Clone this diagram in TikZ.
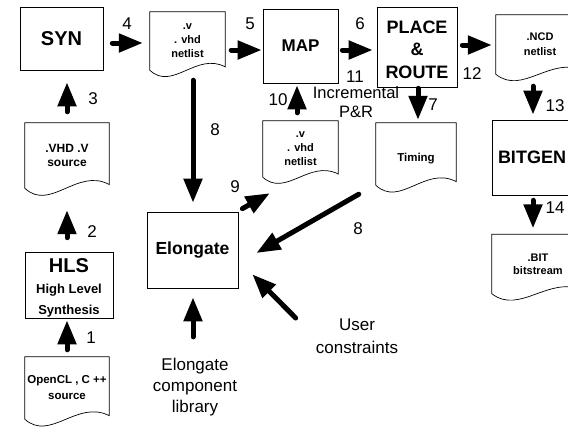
\documentclass[tikz,border=0pt]{standalone}
\usepackage{fontspec}
\setmainfont{Liberation Sans}
\usetikzlibrary{arrows.meta,calc}
\begin{document}
\begin{tikzpicture}[x=1pt,y=-1pt,
  box/.style={draw, line width=0.7pt, inner sep=0pt, align=center},
  docnode/.style={inner sep=0pt, align=center, font=\bfseries\fontsize{11}{14}\selectfont},
  docline/.style={line width=0.7pt},
  lbl/.style={inner sep=0pt, font=\fontsize{17}{20}\selectfont},
  arr/.style={line width=5pt, line cap=round, -{Triangle[length=24pt,width=18pt]}}]
\useasboundingbox (0,0) rectangle (568,432);
\clip (0,0) rectangle (568,432);
\fill[white] (0,0) rectangle (568,432);

% boxes
\node[box, minimum width=83pt, minimum height=63pt, font=\bfseries\fontsize{20}{24}\selectfont] (syn) at (61.5,38.5) {SYN};
\node[box, minimum width=75pt, minimum height=74pt, font=\bfseries\fontsize{17}{20}\selectfont] (map) at (300.5,46) {MAP};
\node[box, minimum width=80pt, minimum height=80pt, font=\bfseries\fontsize{18}{22.5}\selectfont] (pr) at (417,47) {\raisebox{-4pt}[\height][\depth]{\begin{tabular}{@{}c@{}}PLACE\\\&\\ROUTE\end{tabular}}};
\node[box, minimum width=80pt, minimum height=75pt, font=\bfseries\fontsize{18}{22}\selectfont] (bitgen) at (532,157.5) {BITGEN};
\node[box, minimum width=88pt, minimum height=66pt, font=\bfseries\fontsize{13}{20.5}\selectfont] (hls) at (69,285) {\raisebox{-4pt}[\height][\depth]{\begin{tabular}{@{}c@{}}{\fontsize{20}{20}\selectfont HLS}\\[1pt]High Level\\Synthesis\end{tabular}}};
\node[box, minimum width=91pt, minimum height=76pt, font=\bfseries\fontsize{17.5}{20}\selectfont] (elong) at (192.5,250) {Elongate};

% documents
\node[docnode, minimum width=75pt, minimum height=58pt] (doc1) at (187.5,41) {.v\\. vhd\\netlist};
\node[docnode, minimum width=75pt, minimum height=56pt] (doc2) at (300.5,149) {.v\\. vhd\\netlist};
\node[docnode, minimum width=88pt, minimum height=59pt, font=\bfseries\fontsize{11}{15}\selectfont] (ncd) at (540,44.5) {.NCD\\netlist};
\node[docnode, minimum width=92pt, minimum height=59pt, font=\bfseries\fontsize{11}{13}\selectfont] (bit) at (538,264) {.BIT\\bitstream};
\node[docnode, minimum width=80pt, minimum height=62pt, font=\bfseries\fontsize{11.5}{14}\selectfont] (timing) at (416,154) {\raisebox{-5pt}[\height][\depth]{Timing}};
\node[docnode, minimum width=84pt, minimum height=65pt, font=\bfseries\fontsize{12}{14}\selectfont] (vhd) at (67,155.5) {.VHD .V\\source};
\node[docnode, minimum width=84pt, minimum height=62pt, font=\bfseries\fontsize{11.5}{16}\selectfont] (opencl) at (67,388) {OpenCL , C ++\\source};

\foreach \d in {doc1,doc2,ncd,bit,timing,vhd,opencl}
  \draw[docline] let \p1=(\d.north west), \p2=(\d.south east) in
    (\x1,\y1) -- (\x2,\y1) -- (\x2,{\y1+0.943*(\y2-\y1)})
    .. controls ({\x1+0.62*(\x2-\x1)},{\y1+0.682*(\y2-\y1)}) and ({\x1+0.3*(\x2-\x1)},{\y1+1.364*(\y2-\y1)}) .. (\x1,\y2) -- cycle;

% plain labels
\node[lbl] (n1) at (91,338) {1};
\node[lbl] (n2) at (92,232) {2};
\node[lbl] (n3) at (93,99) {3};
\node[lbl] (n4) at (127,24) {4};
\node[lbl] (n5) at (250,24) {5};
\node[lbl] (n6) at (360,24) {6};
\node[lbl] (n7) at (433,105) {7};
\node[lbl] (n8a) at (215,130) {8};
\node[lbl] (n8b) at (358,229) {8};
\node[lbl] (n9) at (235,187) {9};
\node[lbl] (n10) at (278,100) {10};
\node[lbl] (n11) at (355,77) {11};
\node[lbl] (n12) at (472,74) {12};
\node[lbl] (n13) at (555,106) {13};
\node[lbl] (n14) at (555,208) {14};
\node[lbl, align=center, font=\fontsize{16.5}{19}\selectfont] (inc) at (356,102) {Incremental\\P\&R};
\node[lbl, align=center, font=\fontsize{17}{23}\selectfont] (user) at (357,336) {User\\constraints};
\node[lbl, align=center, font=\fontsize{17}{21}\selectfont] (lib) at (195,387) {Elongate\\component\\library};

% arrows
\draw[arr] ($(opencl.north)+(0,-7)$) -- ($(opencl.north |- hls.south)+(0,2)$);
\draw[arr] ($(vhd.south |- hls.north)+(0,-14)$) -- ($(vhd.south)+(0,22)$);
\draw[arr] ($(vhd.north)+(0,-11)$) -- ($(vhd.north |- syn.south)+(0,12)$);
\draw[arr] ($(syn.east)+(9,4.5)$) -- ($(doc1.west)+(-7,2)$);
\draw[arr] ($(doc1.east)+(6,9)$) -- ($(map.west)+(-1,4)$);
\draw[arr] ($(map.east)+(4,4)$) -- ($(pr.west)+(-4,3)$);
\draw[arr] ($(pr.east)+(5,-2)$) -- ($(ncd.west)+(-4,0.5)$);
\draw[arr] ($(ncd.south)+(-7,12)$) -- ($(bitgen.north)+(1,-5)$);
\draw[arr] ($(bitgen.south)+(1,5)$) -- ($(bit.north)+(-5,-6)$);
\draw[arr] ($(pr.south)+(1,1)$) -- ($(timing.north)+(2,-3)$);
\draw[arr] ($(doc2.north)+(-3.5,-8)$) -- ($(map.south)+(-3.5,2)$);
\draw[arr] ($(doc1.south)+(5.5,10)$) -- ($(elong.north)+(0.5,-9)$);
\draw[arr] ($(elong.north east)+(4,-3)$) -- ($(doc2.south west)+(7,16)$);
\draw[arr] ($(timing.south west)+(-17,9)$) -- ($(elong.east)+(18,3)$);
\draw[arr] ($(user.west)+(-20,-18)$) -- ($(elong.south east)+(14,-14)$);
\draw[arr] ($(lib.north)+(-2,-21)$) -- ($(elong.south)+(0.5,9)$);
\end{tikzpicture}
\end{document}
